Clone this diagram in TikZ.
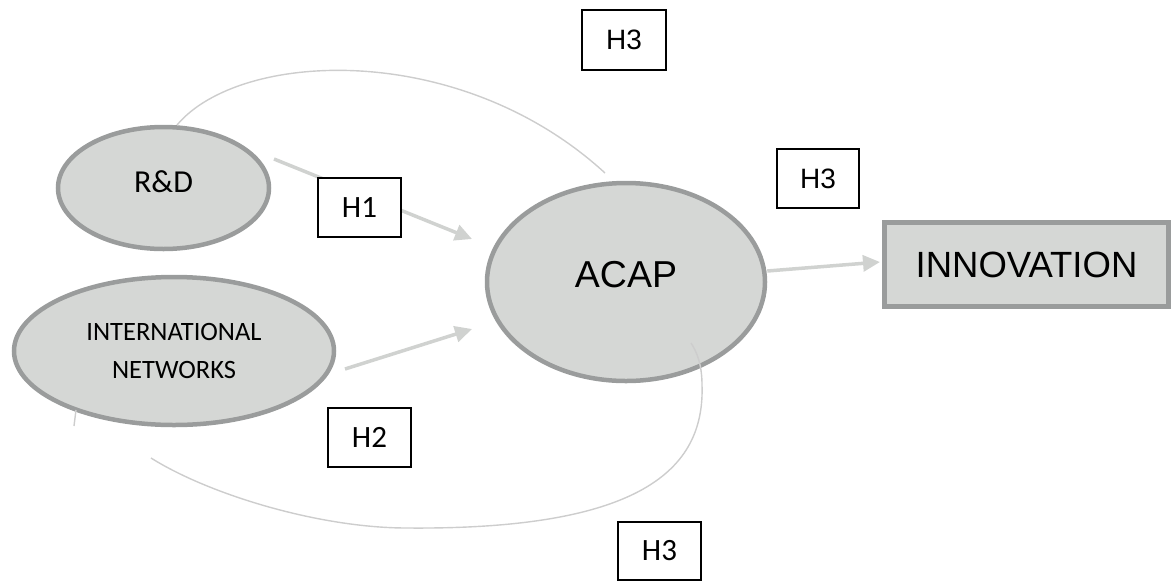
\documentclass[tikz,border=0pt]{standalone}
\usepackage{fontspec}
\setmainfont{Liberation Sans}
\newfontfamily\carl{Carlito}
\newfontfamily\arl{Liberation Sans}
\usetikzlibrary{arrows.meta,shapes.geometric}
\definecolor{nodefill}{HTML}{D5D7D5}
\definecolor{nodeline}{HTML}{9A9C9C}
\definecolor{arrowcol}{HTML}{D0D2D0}
\definecolor{arccol}{HTML}{CDCDCD}
\begin{document}
\begin{tikzpicture}[x=1pt,y=-1pt,
  oval/.style={ellipse,draw=nodeline,fill=nodefill,line width=4.5pt,inner sep=0pt},
  hbox/.style={rectangle,draw=black,fill=white,line width=1.3pt,inner sep=0pt,minimum width=82pt,minimum height=58pt},
  arr/.style={draw=arrowcol,line width=3.5pt,-{Triangle[length=17pt,width=16pt]}},
  arcline/.style={draw=arccol,line width=1.4pt}]
\useasboundingbox (0,0) rectangle (1172,582);
% main nodes
\node[oval,minimum width=211pt,minimum height=122pt,text height=22pt,text depth=14pt,
  font=\carl\fontsize{32}{38}\selectfont] (rd) at (163.5,188) {R\&D};
\node[oval,minimum width=320pt,minimum height=148pt,align=center,
  font=\carl\fontsize{26.5}{38.5}\selectfont] (inet) at (174,351) {INTERNATIONAL\\NETWORKS};
\node[oval,minimum width=278pt,minimum height=198pt,text height=27pt,text depth=16pt,
  font=\arl\fontsize{37.5}{44}\selectfont] (acap) at (626,282) {ACAP};
\node[rectangle,draw=nodeline,fill=nodefill,line width=5pt,inner sep=0pt,
  minimum width=284pt,minimum height=84pt,text height=26pt,text depth=0pt,
  font=\arl\fontsize{36.5}{44}\selectfont] (innov) at (1026.5,264) {INNOVATION};
% arc end points
\coordinate (t1) at (177,125);
\coordinate (t2) at (605,173);
\coordinate (b0) at (76,410);
\coordinate (b0e) at (74,426);
\coordinate (b1) at (151,458);
\coordinate (b2) at (407,528);
\coordinate (b3) at (702,385);
\coordinate (b4) at (691,343);
% arcs
\draw[arcline] (t1) .. controls (240,50) and (460,40) .. (t2);
\draw[arcline] (b0) -- (b0e);
\draw[arcline] (b1) .. controls (210,495) and (320,528) .. (b2)
  .. controls (640,530) and (705,470) .. (b3)
  .. controls (702,365) and (697,352) .. (b4);
% arrows
\coordinate (a1s) at (274,159);
\coordinate (a1e) at (472,239);
\coordinate (a2s) at (345,369);
\coordinate (a2e) at (472,329);
\coordinate (a3e) at (880,262);
\draw[arr] (a1s) -- (a1e);
\draw[arr] (a2s) -- (a2e);
\draw[arr] (acap.east |- 0,271) -- (a3e);
% hypothesis boxes
\node[hbox,minimum width=83pt,minimum height=59pt,font=\carl\fontsize{31}{36}\selectfont] (h1) at (359.5,207.5) {H1};
\node[hbox,minimum width=83pt,minimum height=59pt,font=\carl\fontsize{31}{36}\selectfont] (h2) at (369.5,437.5) {H2};
\node[hbox,minimum width=83pt,minimum height=58pt,font=\carl\fontsize{31}{36}\selectfont] (h3c) at (659.5,551) {H3};
\node[hbox,minimum width=84pt,minimum height=60pt,font=\arl\fontsize{28}{34}\selectfont] (h3a) at (624,40) {H3};
\node[hbox,minimum width=82pt,minimum height=59pt,font=\arl\fontsize{28}{34}\selectfont] (h3b) at (818,178.5) {H3};
\end{tikzpicture}
\end{document}
